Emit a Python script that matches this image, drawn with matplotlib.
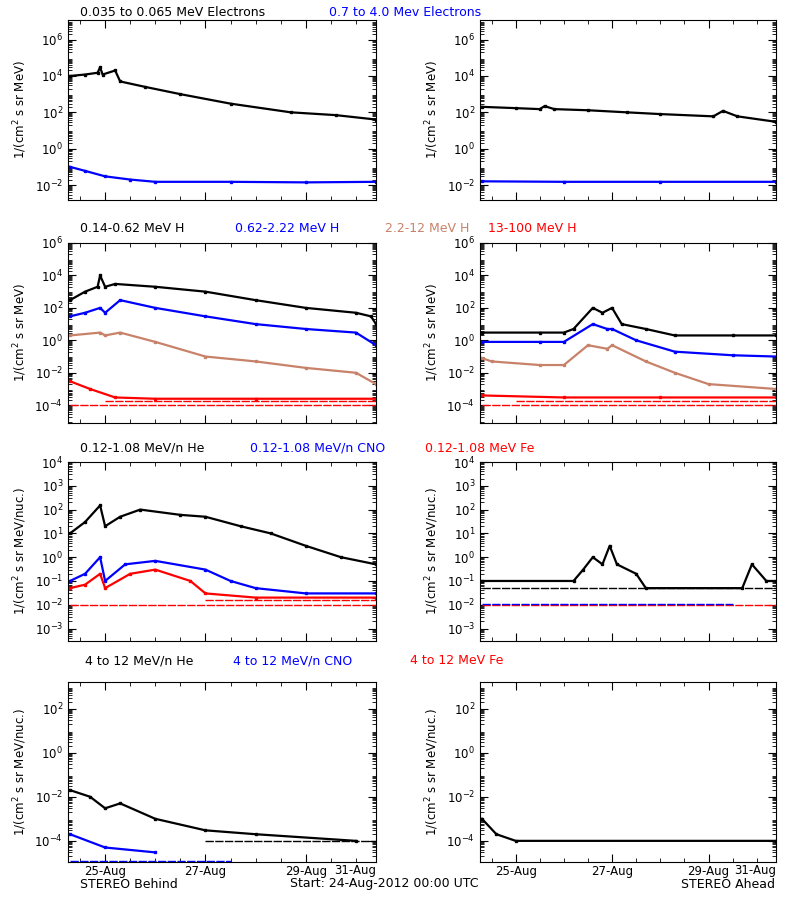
import math
import matplotlib
matplotlib.use("Agg")
import matplotlib.pyplot as plt
from matplotlib.ticker import FixedLocator, LogLocator, NullFormatter

plt.rcParams.update({"font.size": 8.5, "font.family": "DejaVu Sans"})
BROWN = "#c8826a"

# ---------------- data (day of Aug 2012, flux) ----------------
# row 1: electrons
b_el_lo_t = [24.3, 24.6, 24.85, 24.9, 24.95, 25.2, 25.3, 25.8, 26.5, 27.5, 28.7, 29.6, 30.4]
b_el_lo_v = [1e4, 1.2e4, 1.5e4, 3e4, 1.2e4, 2e4, 5e3, 2.5e3, 1e3, 3e2, 1e2, 7e1, 4e1]
b_el_hi_t = [24.3, 24.6, 25.0, 25.5, 26.0, 27.5, 29.0, 30.4]
b_el_hi_v = [1e-1, 6e-2, 3e-2, 2e-2, 1.5e-2, 1.5e-2, 1.4e-2, 1.5e-2]
a_el_lo_t = [24.3, 25.0, 25.5, 25.6, 25.8, 26.5, 27.3, 28.0, 29.1, 29.3, 29.6, 30.4]
a_el_lo_v = [2e2, 1.7e2, 1.5e2, 2.2e2, 1.5e2, 1.3e2, 1e2, 8e1, 6e1, 1.2e2, 6e1, 3e1]
a_el_hi_t = [24.3, 26.0, 28.0, 30.4]
a_el_hi_v = [1.6e-2, 1.5e-2, 1.5e-2, 1.5e-2]

# row 2: protons
b_h1_t = [24.3, 24.6, 24.85, 24.9, 25.0, 25.2, 26.0, 27.0, 28.0, 29.0, 30.0, 30.3, 30.4]
b_h1_v = [3e2, 1e3, 2e3, 1e4, 2e3, 3e3, 2e3, 1e3, 3e2, 1e2, 5e1, 3e1, 1e1]
b_h2_t = [24.3, 24.6, 24.9, 25.0, 25.3, 26.0, 27.0, 28.0, 29.0, 30.0, 30.4]
b_h2_v = [3e1, 5e1, 1e2, 5e1, 3e2, 1e2, 3e1, 1e1, 5, 3, 5e-1]
b_h3_t = [24.3, 24.9, 25.0, 25.3, 26.0, 27.0, 28.0, 29.0, 30.0, 30.4]
b_h3_v = [2, 3, 2, 3, 8e-1, 1e-1, 5e-2, 2e-2, 1e-2, 2e-3]
b_h4_t = [24.3, 24.7, 25.2, 26.0, 28.0, 30.4]
b_h4_v = [3e-3, 1e-3, 3e-4, 2.5e-4, 2.5e-4, 2.5e-4]
a_h1_t = [24.3, 25.5, 26.0, 26.2, 26.6, 26.8, 27.0, 27.2, 27.7, 28.3, 29.5, 30.4]
a_h1_v = [3, 3, 3, 5, 1e2, 5e1, 1e2, 1e1, 5, 2, 2, 2]
a_h2_t = [24.3, 25.5, 26.0, 26.6, 26.9, 27.0, 27.5, 28.3, 29.5, 30.4]
a_h2_v = [8e-1, 8e-1, 8e-1, 1e1, 5, 5, 1, 2e-1, 1.2e-1, 1e-1]
a_h3_t = [24.3, 24.5, 25.5, 26.0, 26.5, 26.9, 27.0, 27.7, 28.3, 29.0, 30.4]
a_h3_v = [8e-2, 5e-2, 3e-2, 3e-2, 5e-1, 3e-1, 5e-1, 5e-2, 1e-2, 2e-3, 1e-3]
a_h4_t = [24.3, 26.0, 28.0, 30.4]
a_h4_v = [4e-4, 3e-4, 3e-4, 3e-4]
floor_h = 1e-4

# row 3: low-energy ions
b_he_t = [24.3, 24.6, 24.9, 25.0, 25.3, 25.7, 26.5, 27.0, 27.7, 28.3, 29.0, 29.7, 30.4]
b_he_v = [1e1, 3e1, 1.5e2, 2e1, 5e1, 1e2, 6e1, 5e1, 2e1, 1e1, 3, 1, 5e-1]
b_cno_t = [24.3, 24.6, 24.9, 25.0, 25.4, 26.0, 27.0, 27.5, 28.0, 29.0, 30.4]
b_cno_v = [1e-1, 2e-1, 1, 1e-1, 5e-1, 7e-1, 3e-1, 1e-1, 5e-2, 3e-2, 3e-2]
b_fe_t = [24.3, 24.6, 24.9, 25.0, 25.5, 26.0, 26.7, 27.0, 28.0, 30.4]
b_fe_v = [5e-2, 7e-2, 2e-1, 5e-2, 2e-1, 3e-1, 1e-1, 3e-2, 2e-2, 2e-2]
a_he_t = [24.3, 26.2, 26.4, 26.6, 26.8, 26.95, 27.1, 27.5, 27.7, 29.7, 29.9, 30.2, 30.4]
a_he_v = [1e-1, 1e-1, 3e-1, 1, 5e-1, 3, 5e-1, 2e-1, 5e-2, 5e-2, 5e-1, 1e-1, 1e-1]
floor_he = 5e-2
floor_fe = 1e-2

# row 4: high-energy ions
b_he4_t = [24.3, 24.7, 25.0, 25.3, 26.0, 27.0, 28.0, 30.0]
b_he4_v = [2e-2, 1e-2, 3e-3, 5e-3, 1e-3, 3e-4, 2e-4, 1e-4]
b_cno4_t = [24.3, 25.0, 26.0]
b_cno4_v = [2e-4, 5e-5, 3e-5]
a_he4_t = [24.3, 24.6, 25.0, 30.4]
a_he4_v = [1e-3, 2e-4, 1e-4, 1e-4]
floor4 = 1e-4
floor4_cno = 1.2e-5

# ---------------- layout ----------------
W, H = 800, 900
fig = plt.figure(figsize=(8, 9), dpi=100)
cols = [(68, 376), (480, 776)]
rows = [(20, 200), (243, 423), (462, 641), (682, 862)]
ylims = [(1.5e-3, 1.2e7), (8e-6, 1e6), (3e-4, 1e4), (1.1e-5, 1.6e3)]
yticks = [[1e-2, 1, 1e2, 1e4, 1e6], [1e-4, 1e-2, 1, 1e2, 1e4, 1e6],
          [1e-3, 1e-2, 1e-1, 1, 1e1, 1e2, 1e3, 1e4], [1e-4, 1e-2, 1, 1e2]]
ylabels = ["1/(cm$^2$ s sr MeV)"] * 2 + ["1/(cm$^2$ s sr MeV/nuc.)"] * 2

axes = {}
for r, (top, bot) in enumerate(rows):
    for c, (x0, x1) in enumerate(cols):
        ax = fig.add_axes([x0 / W, 1 - bot / H, (x1 - x0) / W, (bot - top) / H])
        ax.set_yscale("log")
        ax.set_xlim(24.26, 30.4)
        ax.set_ylim(*ylims[r])
        ax.yaxis.set_major_locator(FixedLocator(yticks[r]))
        ax.yaxis.set_major_formatter(plt.FuncFormatter(
            lambda v, p: "10$^{%d}$" % round(math.log10(v))))
        ax.yaxis.set_minor_locator(LogLocator(subs=range(2, 10), numticks=50))
        ax.yaxis.set_minor_formatter(NullFormatter())
        ax.set_xticks([25, 27, 29])
        ax.set_xticks([24.5 + 0.5 * i for i in range(12)], minor=True)
        if r == 3:
            ax.set_xticklabels(["25-Aug", "27-Aug", "29-Aug"])
            ax.text(1.0, -0.012, "31-Aug", transform=ax.transAxes, ha="right", va="top")
        else:
            ax.set_xticklabels([])
        ax.tick_params(which="both", direction="in", top=True, right=True)
        ax.tick_params(which="major", length=6)
        ax.tick_params(which="minor", length=3)
        ax.tick_params(axis="x", pad=2)
        ax.set_ylabel(ylabels[r])
        axes[(r, c)] = ax


def pl(ax, t, v, color):
    ax.plot(t, v, color=color, lw=1.6, marker="s", ms=1.5)


def floor(ax, v, color, t0=24.3, t1=30.4):
    ax.plot([t0, t1], [v, v], color=color, lw=1.0, ls=(0, (6, 1)))


pl(axes[(0, 0)], b_el_lo_t, b_el_lo_v, "black")
pl(axes[(0, 0)], b_el_hi_t, b_el_hi_v, "blue")
pl(axes[(0, 1)], a_el_lo_t, a_el_lo_v, "black")
pl(axes[(0, 1)], a_el_hi_t, a_el_hi_v, "blue")

for ax, series in [(axes[(1, 0)], [(b_h1_t, b_h1_v, "black"), (b_h2_t, b_h2_v, "blue"),
                                   (b_h3_t, b_h3_v, BROWN), (b_h4_t, b_h4_v, "red")]),
                   (axes[(1, 1)], [(a_h1_t, a_h1_v, "black"), (a_h2_t, a_h2_v, "blue"),
                                   (a_h3_t, a_h3_v, BROWN), (a_h4_t, a_h4_v, "red")])]:
    for t, v, col in series:
        pl(ax, t, v, col)
    floor(ax, floor_h, "red")
    floor(ax, floor_h * 1.8, "red", 25.0)

pl(axes[(2, 0)], b_he_t, b_he_v, "black")
pl(axes[(2, 0)], b_cno_t, b_cno_v, "blue")
pl(axes[(2, 0)], b_fe_t, b_fe_v, "red")
floor(axes[(2, 0)], floor_fe, "red")
floor(axes[(2, 0)], floor_fe * 1.6, "red", 27.0)
pl(axes[(2, 1)], a_he_t, a_he_v, "black")
floor(axes[(2, 1)], floor_he, "black")
floor(axes[(2, 1)], floor_fe, "red")
floor(axes[(2, 1)], floor_fe * 1.05, "blue", 24.3, 29.5)

pl(axes[(3, 0)], b_he4_t, b_he4_v, "black")
floor(axes[(3, 0)], floor4, "black", 27.0)
pl(axes[(3, 0)], b_cno4_t, b_cno4_v, "blue")
floor(axes[(3, 0)], floor4_cno, "blue", 24.3, 27.5)
pl(axes[(3, 1)], a_he4_t, a_he4_v, "black")


# ---------------- titles ----------------
def ftext(x, y, s, color="black"):
    fig.text(x / W, 1 - y / H, s, color=color, fontsize=9, va="center")


ftext(80, 13, "0.035 to 0.065 MeV Electrons")
ftext(329, 13, "0.7 to 4.0 Mev Electrons", "blue")
ftext(80, 229, "0.14-0.62 MeV H")
ftext(235, 229, "0.62-2.22 MeV H", "blue")
ftext(385, 229, "2.2-12 MeV H", BROWN)
ftext(488, 229, "13-100 MeV H", "red")
ftext(80, 448, "0.12-1.08 MeV/n He")
ftext(250, 448, "0.12-1.08 MeV/n CNO", "blue")
ftext(425, 448, "0.12-1.08 MeV Fe", "red")
ftext(85, 661, "4 to 12 MeV/n He")
ftext(233, 661, "4 to 12 MeV/n CNO", "blue")
ftext(410, 661, "4 to 12 MeV Fe", "red")
ftext(80, 884, "STEREO Behind")
ftext(290, 884, "Start: 24-Aug-2012 00:00 UTC")
ftext(681, 884, "STEREO Ahead")

fig.savefig("out.png", dpi=100)
